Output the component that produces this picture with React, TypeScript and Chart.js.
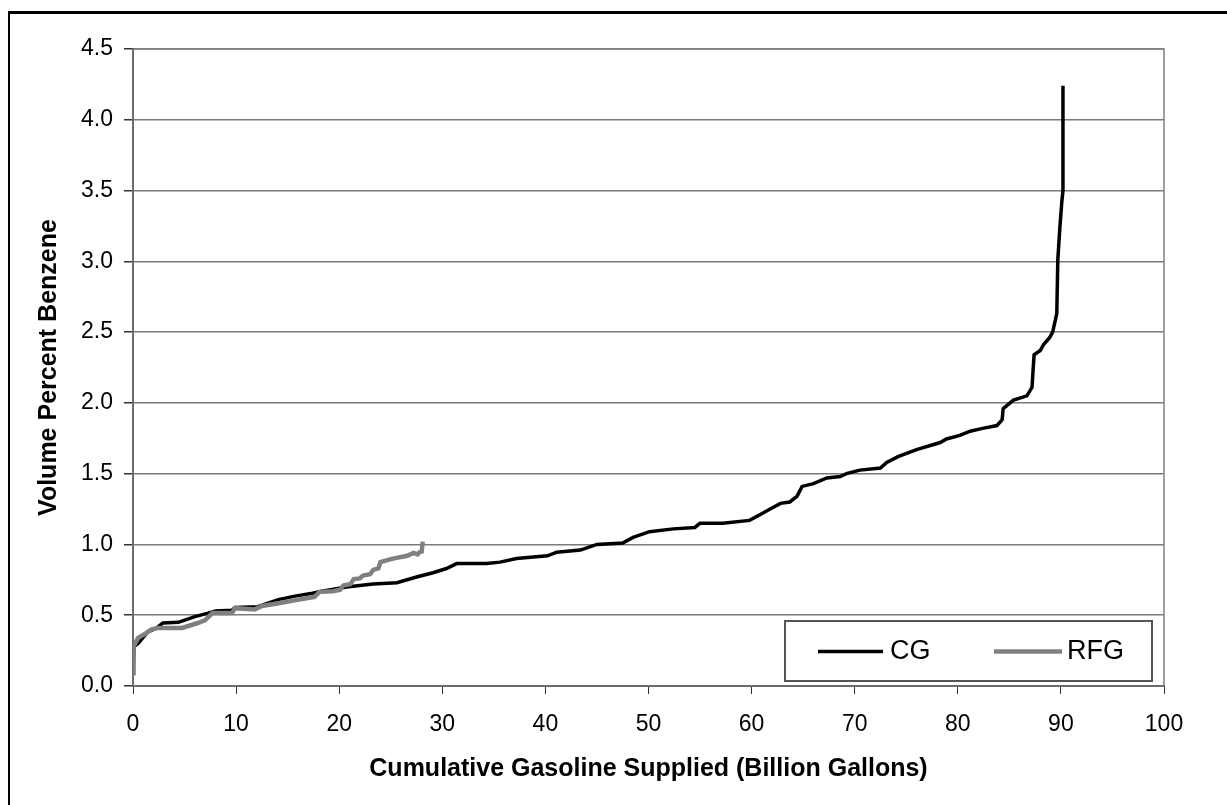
import { useEffect, useRef } from 'react';
import { Chart, registerables } from 'chart.js';

Chart.register(...registerables);

// Cumulative gasoline supplied (billion gallons) vs benzene volume percent
const cgX = [0, 0.1, 0.5, 1.4, 2.3, 2.9, 4.4, 6.0, 7.3, 8.0, 9.6, 9.9, 12.1, 13.1, 14.1, 15.7, 17.4, 18.3, 20.7, 23.3, 25.6, 27.5, 29.1, 30.4, 31.4, 34.3, 35.6, 37.2, 40.2, 41.1, 43.4, 45.0, 47.5, 48.5, 50.1, 52.4, 54.5, 55.0, 57.2, 59.8, 60.8, 61.8, 62.8, 63.7, 64.4, 64.9, 66.0, 67.3, 68.6, 69.2, 70.5, 72.5, 73.1, 74.2, 76.0, 78.3, 78.9, 80.2, 81.2, 82.4, 83.8, 84.3, 84.4, 85.4, 86.7, 87.2, 87.3, 87.4, 88.0, 88.3, 88.9, 89.2, 89.6, 89.7, 89.9, 90.1, 90.2, 90.2, 90.2];
const cgY = [0.08, 0.28, 0.30, 0.38, 0.41, 0.445, 0.45, 0.49, 0.515, 0.53, 0.535, 0.555, 0.56, 0.585, 0.61, 0.635, 0.655, 0.67, 0.70, 0.72, 0.73, 0.77, 0.80, 0.83, 0.865, 0.865, 0.875, 0.90, 0.92, 0.945, 0.96, 1.00, 1.01, 1.05, 1.09, 1.11, 1.12, 1.15, 1.15, 1.17, 1.21, 1.25, 1.29, 1.30, 1.34, 1.41, 1.43, 1.47, 1.48, 1.50, 1.525, 1.54, 1.58, 1.62, 1.67, 1.72, 1.745, 1.77, 1.80, 1.82, 1.84, 1.88, 1.96, 2.02, 2.05, 2.11, 2.23, 2.34, 2.37, 2.41, 2.46, 2.50, 2.63, 3.01, 3.24, 3.43, 3.50, 3.95, 4.24];

const rfgX = [0, 0.05, 0.5, 1.2, 1.8, 2.4, 4.75, 6.3, 7.0, 7.7, 9.6, 9.9, 11.8, 12.5, 14.1, 15.7, 17.6, 18.1, 19.4, 20.1, 20.4, 21.1, 21.4, 22.0, 22.3, 23.0, 23.3, 23.8, 24.0, 25.2, 26.6, 27.2, 27.6, 27.8, 28.0, 28.1];
const rfgY = [0.09, 0.28, 0.34, 0.37, 0.40, 0.41, 0.41, 0.445, 0.465, 0.515, 0.515, 0.55, 0.54, 0.565, 0.585, 0.605, 0.63, 0.665, 0.67, 0.68, 0.71, 0.72, 0.755, 0.76, 0.78, 0.79, 0.82, 0.83, 0.875, 0.90, 0.92, 0.94, 0.93, 0.945, 0.95, 1.02];

const seriesLabels = ['CG', 'RFG'];
const seriesColors = ['#000000', '#808080'];
const seriesWidths = [3.5, 4.5];

const xTitle = 'Cumulative Gasoline Supplied (Billion Gallons)';
const yTitle = 'Volume Percent Benzene';

const FONT = "'Liberation Sans', Arial, sans-serif";

export default function App() {
  const ref = useRef<HTMLCanvasElement>(null);

  useEffect(() => {
    const plotFrame = {
      id: 'plotFrame',
      beforeDatasetsDraw(chart: any) {
        const { ctx, chartArea: a } = chart;
        ctx.save();
        ctx.strokeStyle = '#808080';
        ctx.lineWidth = 1.5;
        ctx.strokeRect(a.left, a.top, a.right - a.left, a.bottom - a.top);
        ctx.restore();
      },
    };

    const boxLegend = {
      id: 'boxLegend',
      afterDraw(chart: any) {
        const { ctx, chartArea: a } = chart;
        const right = a.right - 12;
        const bottom = a.bottom - 5;
        const w = 367;
        const h = 60;
        const left = right - w;
        const top = bottom - h;
        ctx.save();
        ctx.fillStyle = '#ffffff';
        ctx.fillRect(left, top, w, h);
        ctx.strokeStyle = '#555555';
        ctx.lineWidth = 2;
        ctx.strokeRect(left, top, w, h);
        const midY = top + 30.5;
        const items = [
          { lx: left + 33, len: 65, tx: left + 105 },
          { lx: left + 209, len: 68, tx: left + 282 },
        ];
        chart.data.datasets.forEach((ds: any, i: number) => {
          const it = items[i];
          ctx.strokeStyle = ds.borderColor;
          ctx.lineWidth = ds.borderWidth;
          ctx.beginPath();
          ctx.moveTo(it.lx, midY);
          ctx.lineTo(it.lx + it.len, midY);
          ctx.stroke();
          ctx.fillStyle = '#000';
          ctx.font = `27px ${FONT}`;
          ctx.textBaseline = 'alphabetic';
          ctx.textAlign = 'left';
          ctx.fillText(ds.label, it.tx, top + 38);
        });
        ctx.restore();
      },
    };

    const chart = new Chart(ref.current as HTMLCanvasElement, {
      type: 'line',
      data: {
        datasets: [
          {
            label: seriesLabels[0],
            data: cgX.map((x, i) => ({ x, y: cgY[i] })),
            borderColor: seriesColors[0],
            borderWidth: seriesWidths[0],
            pointRadius: 0,
            tension: 0,
            fill: false,
            order: 1,
          },
          {
            label: seriesLabels[1],
            data: rfgX.map((x, i) => ({ x, y: rfgY[i] })),
            borderColor: seriesColors[1],
            borderWidth: seriesWidths[1],
            pointRadius: 0,
            tension: 0,
            fill: false,
            order: 0,
          },
        ],
      },
      options: {
        responsive: false,
        animation: false,
        devicePixelRatio: 1,
        layout: { padding: { left: 0, top: 49, right: 63, bottom: 0 } },
        plugins: { legend: { display: false }, tooltip: { enabled: false } },
        scales: {
          x: {
            type: 'linear',
            min: 0,
            max: 100,
            ticks: {
              stepSize: 10,
              padding: 17,
              color: '#000',
              font: { family: FONT, size: 23 },
              maxRotation: 0,
            },
            grid: { drawOnChartArea: false, drawTicks: true, tickLength: 8, color: '#333', tickColor: '#333' },
            border: { color: '#333', width: 2 },
            title: {
              display: true,
              text: xTitle,
              color: '#000',
              font: { family: FONT, size: 25, weight: 'bold' },
              padding: { top: 0, bottom: 21 },
            },
            afterFit(scale: any) {
              scale.height = 119;
            },
          },
          y: {
            type: 'linear',
            min: 0,
            max: 4.5,
            ticks: {
              stepSize: 0.5,
              padding: 11,
              color: '#000',
              font: { family: FONT, size: 23 },
              callback: (v: any) => Number(v).toFixed(1),
            },
            grid: { color: '#7a7a7a', lineWidth: 1.5, drawTicks: true, tickLength: 9, tickColor: '#333' },
            border: { color: '#333', width: 2 },
            title: {
              display: true,
              text: yTitle,
              color: '#000',
              font: { family: FONT, size: 25, weight: 'bold' },
              padding: { top: 34, bottom: 0 },
            },
            afterFit(scale: any) {
              scale.width = 133;
            },
          },
        },
      },
      plugins: [plotFrame, boxLegend],
    });

    return () => chart.destroy();
  }, []);

  return (
    <div style={{ position: 'fixed', left: 0, top: 0, width: 1227, height: 805, overflow: 'hidden', background: '#fff' }}>
      <canvas ref={ref} width={1227} height={805} style={{ position: 'absolute', left: 0, top: 0, width: 1227, height: 805 }} />
      <div
        style={{
          position: 'absolute',
          left: 8,
          top: 11,
          width: 1260,
          height: 840,
          borderTop: '3px solid #000',
          borderLeft: '2px solid #000',
          pointerEvents: 'none',
        }}
      />
    </div>
  );
}
